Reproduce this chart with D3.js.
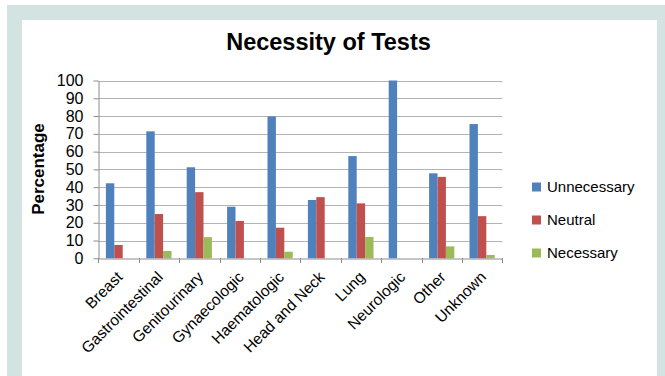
<!DOCTYPE html>
<html>
<head>
<meta charset="utf-8">
<script src="https://cdn.jsdelivr.net/npm/d3@7"></script>
<style>
  html, body { margin: 0; padding: 0; background: #ffffff; }
  svg { display: block; }
  text { font-family: "Liberation Sans", Arial, sans-serif; }
</style>
</head>
<body>
<svg id="chart" width="665" height="376"></svg>
<script>
const categories = ["Breast", "Gastrointestinal", "Genitourinary", "Gynaecologic", "Haematologic",
                    "Head and Neck", "Lung", "Neurologic", "Other", "Unknown"];
const seriesNames = ["Unnecessary", "Neutral", "Necessary"];
const unnecessary = [42.2, 71.4, 51.2, 29.0, 79.8, 32.8, 57.5, 100, 47.8, 75.5];
const neutral     = [7.5, 24.9, 37.2, 21.0, 17.2, 34.4, 30.9, 0, 45.8, 23.7];
const necessary   = [0, 4.1, 11.9, 0, 3.7, 0, 12.0, 0, 6.7, 1.9];
const yTicks = [0, 10, 20, 30, 40, 50, 60, 70, 80, 90, 100];
const seriesColors = ["#4F81BD", "#C0504D", "#9BBB59"];

const values = [unnecessary, neutral, necessary];
const svg = d3.select("#chart");

// frame background
svg.append("rect").attr("x", 7).attr("y", 5).attr("width", 658).attr("height", 371).attr("fill", "#d2e3e2");
svg.append("rect").attr("x", 22).attr("y", 20).attr("width", 635).attr("height", 356).attr("fill", "#ffffff");

const pLeft = 98.3, pRight = 502.3, pTop = 80.5, pBottom = 258.3;

const x = d3.scaleBand().domain(categories).range([pLeft, pRight]).paddingInner(0).paddingOuter(0);
const bw = x.bandwidth();
const xs = d3.scaleBand().domain(seriesNames).range([bw * 0.188, bw * 0.812]).padding(0);
const y = d3.scaleLinear().domain([0, 100]).range([pBottom, pTop]);

// gridlines
svg.append("g").selectAll("line").data(yTicks.filter(d => d > 0)).join("line")
  .attr("x1", pLeft).attr("x2", pRight)
  .attr("y1", d => Math.round(y(d)) + 0.5).attr("y2", d => Math.round(y(d)) + 0.5)
  .attr("stroke", "#b3b3b3").attr("stroke-width", 1);

// bars
const groups = svg.append("g").selectAll("g").data(categories).join("g")
  .attr("transform", d => `translate(${x(d)},0)`);
groups.selectAll("rect").data((c, i) => seriesNames.map((s, j) => ({ s, j, v: values[j][i] })))
  .join("rect")
  .attr("x", d => xs(d.s))
  .attr("width", xs.bandwidth())
  .attr("y", d => y(d.v))
  .attr("height", d => y(0) - y(d.v))
  .attr("fill", d => seriesColors[d.j]);

// y axis
const yAxis = d3.axisLeft(y).tickValues(yTicks).tickSize(5).tickSizeOuter(0).tickPadding(10);
const gy = svg.append("g").attr("transform", `translate(${Math.round(pLeft) + 0.5},0)`).call(yAxis);
gy.select(".domain").attr("stroke", "#8c8c8c");
gy.selectAll(".tick line").attr("stroke", "#8c8c8c");
gy.selectAll(".tick text").attr("font-size", 16).attr("fill", "#000")
  .attr("font-family", "Liberation Sans, Arial, sans-serif");

// x axis
const xAxis = d3.axisBottom(x).tickSize(0).tickSizeOuter(0).tickFormat("");
const gx = svg.append("g").attr("transform", `translate(0,${Math.round(pBottom) + 0.5})`).call(xAxis);
gx.select(".domain").attr("stroke", "#8c8c8c");
gx.selectAll(".tick").remove();
// category boundary tick marks
const bounds = categories.map(c => x(c)).concat([pRight]);
svg.append("g").selectAll("line").data(bounds).join("line")
  .attr("x1", d => Math.round(d) + 0.5).attr("x2", d => Math.round(d) + 0.5)
  .attr("y1", Math.round(pBottom)).attr("y2", Math.round(pBottom) + 5)
  .attr("stroke", "#8c8c8c");

// x labels rotated
svg.append("g").selectAll("text").data(categories).join("text")
  .attr("transform", d => `translate(${x(d) + bw / 2 + 5},${278}) rotate(-45)`)
  .attr("text-anchor", "end")
  .attr("font-size", 15.5)
  .attr("fill", "#000")
  .text(d => d);

// title
svg.append("text").attr("x", 328.5).attr("y", 50).attr("text-anchor", "middle")
  .attr("font-size", 23.5).attr("font-weight", "bold").attr("fill", "#000")
  .text("Necessity of Tests");

// y title
svg.append("text").attr("transform", "translate(44,169) rotate(-90)")
  .attr("text-anchor", "middle").attr("font-size", 17).attr("font-weight", "bold").attr("fill", "#000")
  .text("Percentage");

// legend
const legend = svg.append("g").selectAll("g").data(seriesNames).join("g")
  .attr("transform", (d, i) => `translate(532,${187 + i * 33})`);
legend.append("rect").attr("x", 0).attr("y", -4.5).attr("width", 9).attr("height", 9)
  .attr("fill", (d, i) => seriesColors[i]);
legend.append("text").attr("x", 15).attr("y", 0).attr("dy", "0.35em")
  .attr("font-size", 15).attr("fill", "#000").text(d => d);
</script>
</body>
</html>
